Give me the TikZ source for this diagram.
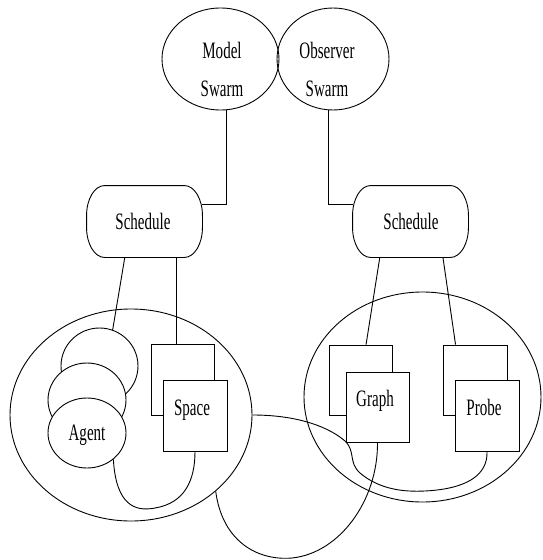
\documentclass[tikz,border=0pt]{standalone}
\usepackage{fontspec}
\setmainfont{Liberation Serif}[FakeStretch=0.64]
\usetikzlibrary{shapes.geometric,calc}
\begin{document}
\begin{tikzpicture}[x=1pt,y=-1pt,line width=0.9pt,
  ell/.style={draw,ellipse,inner sep=0pt},
  wcirc/.style={draw,ellipse,inner sep=0pt,fill=white},
  box/.style={draw,rectangle,inner sep=0pt,fill=white},
  sched/.style={rectangle,inner sep=0pt,minimum width=115pt,minimum height=71pt},
  lbl/.style={font=\fontsize{23.5}{38}\selectfont,inner sep=0pt,anchor=base}]
\useasboundingbox (0,0) rectangle (542,560);
% top ellipses
\node[ell,minimum width=117pt,minimum height=102pt] (model) at (220.5,59) {};
\node[ell,minimum width=112pt,minimum height=102pt] (observer) at (333,59) {};
\node[lbl,anchor=center,align=center] (modelT) at (222,69) {Model\\Swarm};
\node[lbl,anchor=center,align=center] (observerT) at (327,69) {Observer\\Swarm};
% schedules
\node[sched] (schedL) at (144.5,221.5) {};
\node[sched] (schedR) at (410.5,221.5) {};
\foreach \s in {schedL,schedR}{
  \draw ([xshift=18pt]\s.north west) -- ([xshift=-18pt]\s.north east)
    arc[start angle=90,end angle=0,x radius=18pt,y radius=30pt]
    -- ([yshift=30pt]\s.south east)
    arc[start angle=0,end angle=-90,x radius=18pt,y radius=30pt]
    -- ([xshift=18pt]\s.south west)
    arc[start angle=270,end angle=180,x radius=18pt,y radius=30pt]
    -- ([yshift=-30pt]\s.north west)
    arc[start angle=180,end angle=90,x radius=18pt,y radius=30pt] -- cycle;
}
\node[lbl] (schedLT) at (143,229) {Schedule};
\node[lbl] (schedRT) at (411,229) {Schedule};
\draw (model.-83) |- ([yshift=17.5pt]schedL.east);
\draw (observer.-95) |- ([yshift=17.5pt]schedR.west);
% big ellipses
\node[ell,minimum width=242pt,minimum height=212pt] (bigL) at (131,415) {};
\node[ell,minimum width=237pt,minimum height=210pt] (bigR) at (422.5,397) {};
% agents
\node[wcirc,minimum width=77pt,minimum height=76pt] (c1) at (99.5,366) {};
\node[wcirc,minimum width=78pt,minimum height=74pt] (c2) at (87,400) {};
\node[wcirc,minimum width=78pt,minimum height=70pt] (agent) at (87,433) {};
\node[lbl] (agentT) at (87,440) {Agent};
% boxes
\node[box,minimum width=63pt,minimum height=71pt] (spaceB) at (182.5,379.5) {};
\node[box,minimum width=64pt,minimum height=71pt] (space) at (195,415.5) {};
\node[lbl] (spaceT) at (192,415) {Space};
\node[box,minimum width=63pt,minimum height=70pt] (graphB) at (360.5,380) {};
\node[box,minimum width=63pt,minimum height=70pt] (graph) at (377.5,407) {};
\node[lbl] (graphT) at (375,406) {Graph};
\node[box,minimum width=64pt,minimum height=70pt] (probeB) at (475,380) {};
\node[box,minimum width=64pt,minimum height=71pt] (probe) at (487,415.5) {};
\node[lbl] (probeT) at (484,415) {Probe};
% schedule links
\draw ($(schedL.south west)!0.33!(schedL.south east)$) -- (c1.70);
\draw ([xshift=-6.5pt]spaceB.north) -- ([xshift=-6.5pt]spaceB.north |- schedL.south);
\draw ($(schedR.south west)!0.235!(schedR.south east)$) -- ($(graphB.north west)!0.587!(graphB.north east)$);
\draw ($(schedR.south west)!0.78!(schedR.south east)$) -- ($(probeB.north west)!0.2!(probeB.north east)$);
% curves
\draw (agent.-45) .. controls (116,505) and (135,512) .. (155,508)
  .. controls (185,503) and (195,480) .. (space.south);
\draw (bigL.east) .. controls (300,415) and (330,428) .. (345,441)
  .. controls (356,452) and (348,462) .. (360,473)
  .. controls (380,490) and (405,492) .. (425,491)
  .. controls (465,489) and (488,476) .. (probe.south);
\draw (bigL.-42) .. controls (222,540) and (256,561) .. (292,558)
  .. controls (340,553) and (378,500) .. (graph.south);
\end{tikzpicture}
\end{document}
